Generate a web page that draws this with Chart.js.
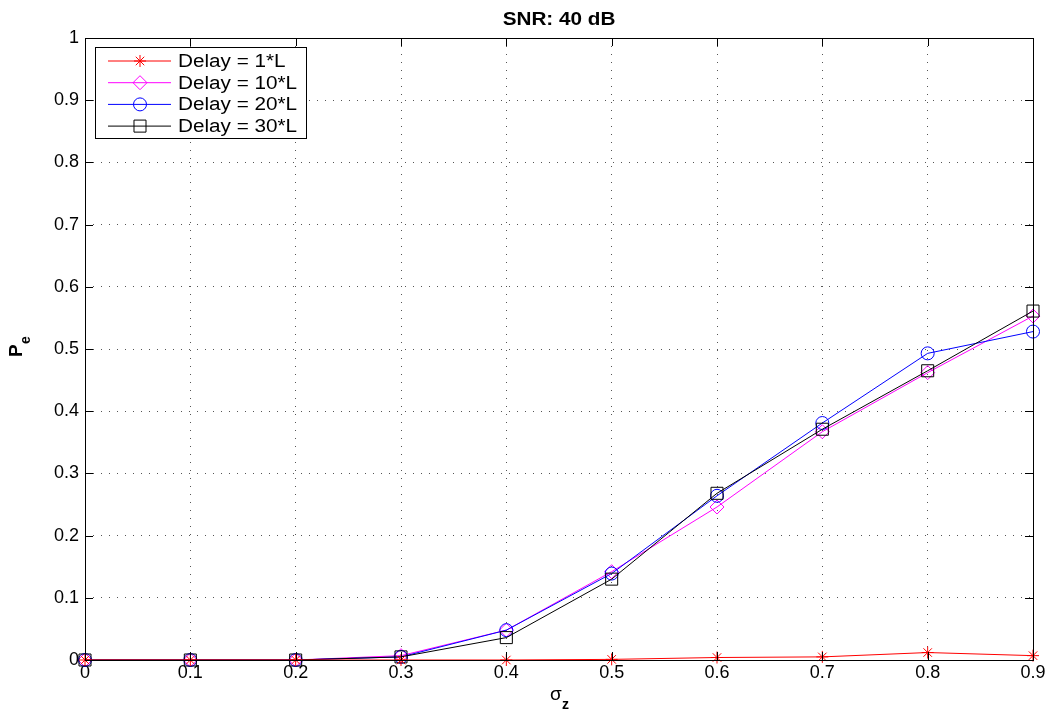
<!DOCTYPE html>
<html>
<head>
<meta charset="utf-8">
<script src="https://cdn.jsdelivr.net/npm/chart.js@4.4.0/dist/chart.umd.min.js"></script>
<style>
  html, body { margin: 0; padding: 0; background: #fff; }
  #wrap { width: 1055px; height: 715px; }
</style>
</head>
<body>
<div id="wrap"><canvas id="peChart"></canvas></div>
<script>
// values
const sigmaZ  = [0, 0.1, 0.2, 0.3, 0.4, 0.5, 0.6, 0.7, 0.8, 0.9];
const delay1  = [0, 0, 0, 0, 0, 0.001, 0.004, 0.005, 0.012, 0.007];
const delay10 = [0, 0, 0, 0.007, 0.048, 0.142, 0.246, 0.367, 0.462, 0.553];
const delay20 = [0, 0, 0, 0.005, 0.048, 0.139, 0.264, 0.381, 0.493, 0.528];
const delay30 = [0, 0, 0, 0.005, 0.036, 0.130, 0.268, 0.371, 0.465, 0.561];

const xTickLabels = ['0', '0.1', '0.2', '0.3', '0.4', '0.5', '0.6', '0.7', '0.8', '0.9'];
const yTickLabels = ['0', '0.1', '0.2', '0.3', '0.4', '0.5', '0.6', '0.7', '0.8', '0.9', '1'];
const seriesNames = ['Delay = 1*L', 'Delay = 10*L', 'Delay = 20*L', 'Delay = 30*L'];

const FONT = "'Liberation Sans', Arial, Helvetica, sans-serif";

function points(ys) {
    return sigmaZ.map((x, i) => ({x: x, y: ys[i]}));
}

function series(label, ys, color, style, radius, order) {
    return {
        label: label,
        data: points(ys),
        borderColor: color,
        backgroundColor: 'transparent',
        borderWidth: 1,
        pointStyle: style,
        pointRadius: radius,
        pointHoverRadius: radius,
        pointBorderColor: color,
        pointBorderWidth: 1,
        pointBackgroundColor: 'transparent',
        tension: 0,
        clip: false,
        order: order
    };
}

// little marker drawer for the legend
function drawMarker(ctx, style, x, y, r) {
    ctx.beginPath();
    if (style === 'star') {
        for (let a = 0; a < 4; a++) {
            const ang = a * Math.PI / 4;
            ctx.moveTo(x - Math.cos(ang) * r, y - Math.sin(ang) * r);
            ctx.lineTo(x + Math.cos(ang) * r, y + Math.sin(ang) * r);
        }
    } else if (style === 'rectRot') {
        ctx.moveTo(x - r, y); ctx.lineTo(x, y - r); ctx.lineTo(x + r, y); ctx.lineTo(x, y + r); ctx.closePath();
    } else if (style === 'circle') {
        ctx.arc(x, y, r, 0, Math.PI * 2);
    } else {
        const s = r * Math.SQRT1_2;
        ctx.rect(x - s, y - s, 2 * s, 2 * s);
    }
    ctx.stroke();
}

// text stretched a bit sideways, like the exported figure
function wideText(ctx, txt, x, y, sx) {
    ctx.save();
    ctx.translate(x, y);
    ctx.scale(sx, 1);
    ctx.fillText(txt, 0, 0);
    ctx.restore();
}

const matlabAxes = {
    id: 'matlabAxes',
    afterDatasetsDraw(chart) {
        const ctx = chart.ctx;
        const a = chart.chartArea;
        const xs = chart.scales.x, ys = chart.scales.y;
        const tl = 8;
        ctx.save();
        ctx.strokeStyle = '#000';
        ctx.lineWidth = 1;
        ctx.beginPath();
        xs.ticks.forEach(t => {
            const px = Math.round(xs.getPixelForValue(t.value)) + 0.5;
            ctx.moveTo(px, a.bottom); ctx.lineTo(px, a.bottom - tl);
            ctx.moveTo(px, a.top); ctx.lineTo(px, a.top + tl);
        });
        ys.ticks.forEach(t => {
            const py = Math.round(ys.getPixelForValue(t.value)) + 0.5;
            ctx.moveTo(a.left, py); ctx.lineTo(a.left + tl, py);
            ctx.moveTo(a.right, py); ctx.lineTo(a.right - tl, py);
        });
        ctx.stroke();
        ctx.strokeRect(Math.round(a.left) + 0.5, Math.round(a.top) + 0.5,
                       Math.round(a.right - a.left), Math.round(a.bottom - a.top));

        // title
        const cx = (a.left + a.right) / 2;
        ctx.fillStyle = '#000';
        ctx.textAlign = 'center';
        ctx.textBaseline = 'alphabetic';
        ctx.font = 'bold 18px ' + FONT;
        wideText(ctx, 'SNR: 40 dB', cx, 25, 1.15);

        // x label sigma_z
        ctx.font = '19px ' + FONT;
        ctx.textAlign = 'left';
        ctx.fillText('σ', cx - 9, 700);
        ctx.font = 'bold 14px ' + FONT;
        ctx.fillText('z', cx + 3, 709);

        // y label P_e
        ctx.save();
        ctx.translate(22, (a.top + a.bottom) / 2 + 8);
        ctx.rotate(-Math.PI / 2);
        ctx.font = 'bold 19px ' + FONT;
        ctx.fillText('P', 0, 0);
        ctx.font = 'bold 14px ' + FONT;
        ctx.fillText('e', 13, 8);
        ctx.restore();

        // legend box inside the axes
        const bx = 95, by = 47, bw = 211, bh = 91;
        ctx.fillStyle = '#fff';
        ctx.fillRect(bx, by, bw, bh);
        ctx.strokeRect(bx + 0.5, by + 0.5, bw, bh);
        const dsList = chart.data.datasets;
        ctx.font = '18px ' + FONT;
        ctx.textBaseline = 'middle';
        ctx.textAlign = 'left';
        dsList.forEach((ds, i) => {
            const ry = by + 14 + i * 21.7;
            ctx.strokeStyle = ds.borderColor;
            ctx.lineWidth = 1;
            ctx.beginPath();
            ctx.moveTo(108, ry); ctx.lineTo(171, ry);
            ctx.stroke();
            drawMarker(ctx, ds.pointStyle, 140, ry, ds.pointRadius);
            ctx.fillStyle = '#000';
            wideText(ctx, ds.label, 178, ry + 1, 1.15);
        });
        ctx.restore();
    }
};

new Chart(document.getElementById('peChart').getContext('2d'), {
    type: 'line',
    data: {
        datasets: [
            series(seriesNames[0], delay1, '#ff0000', 'star', 6, 0),
            series(seriesNames[1], delay10, '#ff00ff', 'rectRot', 7, 3),
            series(seriesNames[2], delay20, '#0000ff', 'circle', 6.5, 2),
            series(seriesNames[3], delay30, '#000000', 'rect', 8.5, 1)
        ]
    },
    options: {
        responsive: true,
        maintainAspectRatio: false,
        animation: false,
        events: [],
        layout: {padding: {top: 38, left: 15, right: 22, bottom: 15}},
        plugins: {
            legend: {display: false},
            title: {display: false},
            tooltip: {enabled: false}
        },
        scales: {
            x: {
                type: 'linear',
                min: 0,
                max: 0.9,
                afterBuildTicks: (scale) => {
                    scale.ticks = sigmaZ.map(v => ({value: v}));
                },
                afterFit: (scale) => { scale.height = 40; },
                ticks: {
                    color: '#000',
                    font: {family: FONT, size: 18},
                    padding: 2,
                    maxRotation: 0,
                    callback: (v, i) => xTickLabels[i]
                },
                grid: {color: '#555', lineWidth: 1, drawTicks: false},
                border: {display: false, dash: [1, 7]}
            },
            y: {
                type: 'linear',
                min: 0,
                max: 1,
                afterBuildTicks: (scale) => {
                    scale.ticks = yTickLabels.map((s, i) => ({value: i / 10}));
                },
                afterFit: (scale) => { scale.width = 70; },
                ticks: {
                    color: '#000',
                    font: {family: FONT, size: 18},
                    padding: 6,
                    callback: (v, i) => yTickLabels[i]
                },
                grid: {color: '#555', lineWidth: 1, drawTicks: false},
                border: {display: false, dash: [1, 7]}
            }
        }
    },
    plugins: [matlabAxes]
});
</script>
</body>
</html>
